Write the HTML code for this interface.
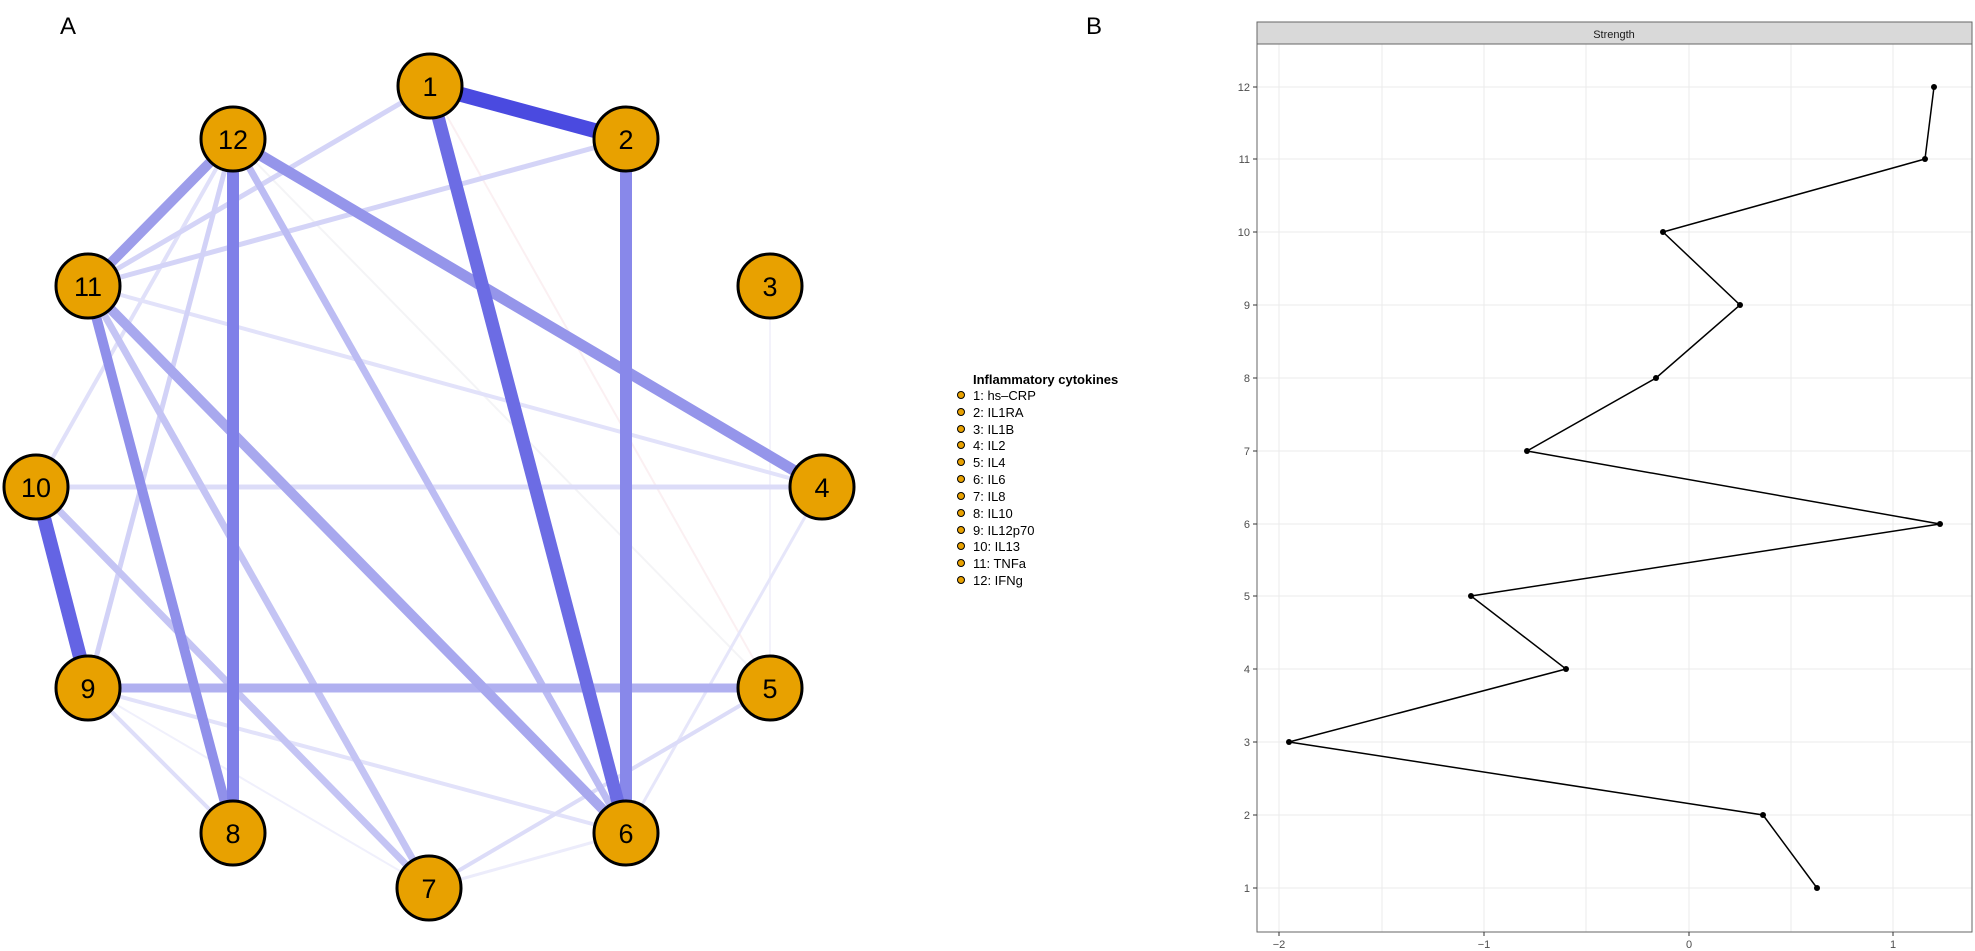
<!DOCTYPE html>
<html><head><meta charset="utf-8"><style>
html,body{margin:0;padding:0;background:#fff;}
svg{display:block;font-family:"Liberation Sans",Arial,sans-serif;}
</style></head><body>
<svg width="1975" height="951" viewBox="0 0 1975 951" xmlns="http://www.w3.org/2000/svg">
<rect width="1975" height="951" fill="#fff"/>
<text x="60" y="34" font-size="24">A</text>
<text x="1086" y="34" font-size="24">B</text>
<g stroke-linecap="butt" fill="none">
<line x1="770" y1="286" x2="770" y2="688" stroke="#f3f2fb" stroke-width="2"/>
<line x1="430" y1="86" x2="770" y2="688" stroke="#fbf0f2" stroke-width="2"/>
<line x1="233" y1="139" x2="770" y2="688" stroke="#f4f4f6" stroke-width="2"/>
<line x1="88" y1="688" x2="429" y2="888" stroke="#f0f0fc" stroke-width="2"/>
<line x1="429" y1="888" x2="626" y2="833" stroke="#ececfb" stroke-width="3"/>
<line x1="626" y1="833" x2="822" y2="487" stroke="#e6e6fa" stroke-width="3"/>
<line x1="88" y1="688" x2="626" y2="833" stroke="#e2e2fa" stroke-width="4"/>
<line x1="88" y1="688" x2="233" y2="833" stroke="#dedef9" stroke-width="4"/>
<line x1="429" y1="888" x2="770" y2="688" stroke="#dcdcf8" stroke-width="4"/>
<line x1="233" y1="139" x2="36" y2="487" stroke="#e0e0f9" stroke-width="4"/>
<line x1="88" y1="286" x2="822" y2="487" stroke="#e2e2fa" stroke-width="4"/>
<line x1="36" y1="487" x2="822" y2="487" stroke="#dcdcf8" stroke-width="5"/>
<line x1="88" y1="286" x2="430" y2="86" stroke="#d4d4f7" stroke-width="5"/>
<line x1="88" y1="286" x2="626" y2="139" stroke="#d4d4f7" stroke-width="5"/>
<line x1="233" y1="139" x2="88" y2="688" stroke="#d2d2f7" stroke-width="5"/>
<line x1="36" y1="487" x2="429" y2="888" stroke="#c4c4f4" stroke-width="7"/>
<line x1="88" y1="286" x2="429" y2="888" stroke="#c4c4f4" stroke-width="7"/>
<line x1="233" y1="139" x2="626" y2="833" stroke="#bcbcf3" stroke-width="7"/>
<line x1="88" y1="688" x2="770" y2="688" stroke="#b0b0f0" stroke-width="9"/>
<line x1="88" y1="286" x2="626" y2="833" stroke="#a8a8ee" stroke-width="10"/>
<line x1="88" y1="286" x2="233" y2="833" stroke="#9090ea" stroke-width="10"/>
<line x1="233" y1="139" x2="88" y2="286" stroke="#9d9dea" stroke-width="10"/>
<line x1="233" y1="139" x2="822" y2="487" stroke="#9595ea" stroke-width="11"/>
<line x1="233" y1="139" x2="233" y2="833" stroke="#8080e8" stroke-width="12"/>
<line x1="626" y1="139" x2="626" y2="833" stroke="#8888ea" stroke-width="12"/>
<line x1="36" y1="487" x2="88" y2="688" stroke="#6464e4" stroke-width="14"/>
<line x1="430" y1="86" x2="626" y2="833" stroke="#6c6ce4" stroke-width="13"/>
<line x1="430" y1="86" x2="626" y2="139" stroke="#4a4ae0" stroke-width="15"/>
</g>
<g fill="#e8a100" stroke="#000" stroke-width="3">
<circle cx="430" cy="86" r="32"/><circle cx="626" cy="139" r="32"/><circle cx="770" cy="286" r="32"/>
<circle cx="822" cy="487" r="32"/><circle cx="770" cy="688" r="32"/><circle cx="626" cy="833" r="32"/>
<circle cx="429" cy="888" r="32"/><circle cx="233" cy="833" r="32"/><circle cx="88" cy="688" r="32"/>
<circle cx="36" cy="487" r="32"/><circle cx="88" cy="286" r="32"/><circle cx="233" cy="139" r="32"/>
</g>
<g font-size="27" text-anchor="middle" fill="#000">
<text x="430" y="96">1</text><text x="626" y="149">2</text><text x="770" y="296">3</text>
<text x="822" y="497">4</text><text x="770" y="698">5</text><text x="626" y="843">6</text>
<text x="429" y="898">7</text><text x="233" y="843">8</text><text x="88" y="698">9</text>
<text x="36" y="497">10</text><text x="88" y="296">11</text><text x="233" y="149">12</text>
</g>
<text x="973" y="384" font-size="13" font-weight="bold">Inflammatory cytokines</text>
<g fill="#e8a100" stroke="#000" stroke-width="1">
<circle cx="961" cy="395" r="3.5"/><circle cx="961" cy="412" r="3.5"/><circle cx="961" cy="429" r="3.5"/>
<circle cx="961" cy="445" r="3.5"/><circle cx="961" cy="462" r="3.5"/><circle cx="961" cy="479" r="3.5"/>
<circle cx="961" cy="496" r="3.5"/><circle cx="961" cy="513" r="3.5"/><circle cx="961" cy="530" r="3.5"/>
<circle cx="961" cy="546" r="3.5"/><circle cx="961" cy="563" r="3.5"/><circle cx="961" cy="580" r="3.5"/>
</g>
<g font-size="13">
<text x="973" y="400">1: hs–CRP</text><text x="973" y="417">2: IL1RA</text><text x="973" y="434">3: IL1B</text>
<text x="973" y="450">4: IL2</text><text x="973" y="467">5: IL4</text><text x="973" y="484">6: IL6</text>
<text x="973" y="501">7: IL8</text><text x="973" y="518">8: IL10</text><text x="973" y="535">9: IL12p70</text>
<text x="973" y="551">10: IL13</text><text x="973" y="568">11: TNFa</text><text x="973" y="585">12: IFNg</text>
</g>
<rect x="1257" y="22" width="715" height="22" fill="#d9d9d9" stroke="#666" stroke-width="1"/>
<text x="1614" y="38" font-size="11" text-anchor="middle" fill="#1a1a1a">Strength</text>
<g stroke="#ebebeb" stroke-width="1">
<line x1="1279" y1="44" x2="1279" y2="932"/><line x1="1382" y1="44" x2="1382" y2="932"/>
<line x1="1484" y1="44" x2="1484" y2="932"/><line x1="1586" y1="44" x2="1586" y2="932"/>
<line x1="1689" y1="44" x2="1689" y2="932"/><line x1="1791" y1="44" x2="1791" y2="932"/>
<line x1="1893" y1="44" x2="1893" y2="932"/>
<line x1="1257" y1="888" x2="1972" y2="888"/><line x1="1257" y1="815" x2="1972" y2="815"/>
<line x1="1257" y1="742" x2="1972" y2="742"/><line x1="1257" y1="669" x2="1972" y2="669"/>
<line x1="1257" y1="596" x2="1972" y2="596"/><line x1="1257" y1="524" x2="1972" y2="524"/>
<line x1="1257" y1="451" x2="1972" y2="451"/><line x1="1257" y1="378" x2="1972" y2="378"/>
<line x1="1257" y1="305" x2="1972" y2="305"/><line x1="1257" y1="232" x2="1972" y2="232"/>
<line x1="1257" y1="159" x2="1972" y2="159"/><line x1="1257" y1="87" x2="1972" y2="87"/>
</g>
<rect x="1257" y="44" width="715" height="888" fill="none" stroke="#666" stroke-width="1"/>
<g stroke="#333" stroke-width="1">
<line x1="1253" y1="888" x2="1257" y2="888"/><line x1="1253" y1="815" x2="1257" y2="815"/>
<line x1="1253" y1="742" x2="1257" y2="742"/><line x1="1253" y1="669" x2="1257" y2="669"/>
<line x1="1253" y1="596" x2="1257" y2="596"/><line x1="1253" y1="524" x2="1257" y2="524"/>
<line x1="1253" y1="451" x2="1257" y2="451"/><line x1="1253" y1="378" x2="1257" y2="378"/>
<line x1="1253" y1="305" x2="1257" y2="305"/><line x1="1253" y1="232" x2="1257" y2="232"/>
<line x1="1253" y1="159" x2="1257" y2="159"/><line x1="1253" y1="87" x2="1257" y2="87"/>
<line x1="1279" y1="932" x2="1279" y2="936"/><line x1="1484" y1="932" x2="1484" y2="936"/>
<line x1="1689" y1="932" x2="1689" y2="936"/><line x1="1893" y1="932" x2="1893" y2="936"/>
</g>
<g font-size="11" fill="#4d4d4d" text-anchor="end">
<text x="1250" y="892">1</text><text x="1250" y="819">2</text><text x="1250" y="746">3</text>
<text x="1250" y="673">4</text><text x="1250" y="600">5</text><text x="1250" y="528">6</text>
<text x="1250" y="455">7</text><text x="1250" y="382">8</text><text x="1250" y="309">9</text>
<text x="1250" y="236">10</text><text x="1250" y="163">11</text><text x="1250" y="91">12</text>
</g>
<g font-size="11" fill="#4d4d4d" text-anchor="middle">
<text x="1279" y="948">−2</text><text x="1484" y="948">−1</text><text x="1689" y="948">0</text><text x="1893" y="948">1</text>
</g>
<polyline fill="none" stroke="#000" stroke-width="1.5" points="1817,888 1763,815 1289,742 1566,669 1471,596 1940,524 1527,451 1656,378 1740,305 1663,232 1925,159 1934,87"/>
<g fill="#000">
<circle cx="1817" cy="888" r="3"/><circle cx="1763" cy="815" r="3"/><circle cx="1289" cy="742" r="3"/>
<circle cx="1566" cy="669" r="3"/><circle cx="1471" cy="596" r="3"/><circle cx="1940" cy="524" r="3"/>
<circle cx="1527" cy="451" r="3"/><circle cx="1656" cy="378" r="3"/><circle cx="1740" cy="305" r="3"/>
<circle cx="1663" cy="232" r="3"/><circle cx="1925" cy="159" r="3"/><circle cx="1934" cy="87" r="3"/>
</g>
</svg>
</body></html>
